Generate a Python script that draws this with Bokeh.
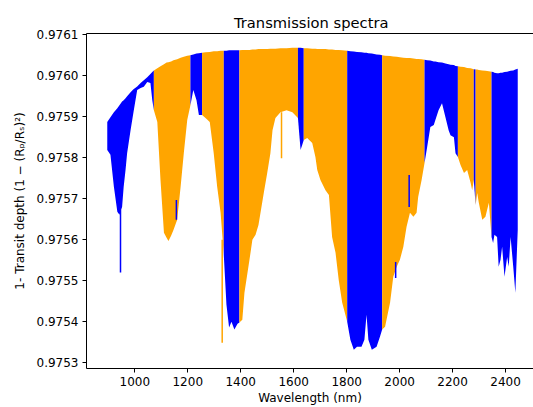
import numpy as np
from bokeh.plotting import figure
from bokeh.models import FixedTicker, LinearAxis, Range1d, PrintfTickFormatter
from bokeh.embed import file_html
from bokeh.resources import INLINE

# ---------------- data ----------------
wavelength = [896, 908, 921, 934, 942, 952, 958, 965, 971, 984, 995, 1009, 1022, 1034, 1047, 1059, 1066, 1072,
              1085, 1097, 1110, 1120, 1127, 1137, 1146, 1160, 1173, 1185, 1198, 1210,
              1221, 1233, 1242, 1254,
              1267, 1283, 1298, 1311, 1324, 1336,
              1346, 1356, 1365, 1376, 1388, 1395,
              1406, 1414, 1433, 1444, 1456, 1467, 1487, 1500, 1512, 1520, 1531, 1550, 1573, 1595, 1616,
              1626, 1638,
              1651, 1670, 1682, 1689, 1701, 1720, 1733, 1745, 1758, 1770, 1783, 1802,
              1814, 1827, 1839, 1856, 1867, 1875, 1882, 1895, 1913, 1926, 1934,
              1945, 1964, 1976, 1989, 2001, 2014, 2026, 2039, 2052, 2064, 2070, 2083, 2094,
              2104, 2116, 2129, 2135, 2147, 2160, 2173, 2185, 2192, 2205, 2211, 2220,
              2230, 2243, 2255, 2268, 2274, 2280,
              2287,
              2293, 2299, 2312, 2324, 2337, 2347,
              2353, 2358, 2368, 2374, 2381, 2387, 2396, 2406, 2412, 2419, 2429, 2437, 2446]

upper = [0.975886, 0.975898, 0.975910, 0.975920, 0.975927, 0.975936, 0.975939, 0.975944, 0.975949, 0.975959,
         0.975966, 0.975973, 0.975981, 0.975988, 0.975995, 0.976003, 0.976008, 0.976012,
         0.976017, 0.976022, 0.976027, 0.976031, 0.976032, 0.976034, 0.976037, 0.976039, 0.976043, 0.976045,
         0.976048, 0.976049,
         0.976051, 0.976053, 0.976054, 0.976055,
         0.976056, 0.976057, 0.976059, 0.976059, 0.976060, 0.976060,
         0.976060, 0.976061, 0.976061, 0.976061, 0.976061, 0.976061,
         0.976062, 0.976062, 0.976062, 0.976063, 0.976063, 0.976064, 0.976064, 0.976064, 0.976065, 0.976065,
         0.976065, 0.976066, 0.976066, 0.976067, 0.976067,
         0.976067, 0.976066,
         0.976066, 0.976065, 0.976065, 0.976064, 0.976064, 0.976064, 0.976063, 0.976063, 0.976062, 0.976062,
         0.976061, 0.976060,
         0.976059, 0.976058, 0.976057, 0.976056, 0.976055, 0.976055, 0.976054, 0.976053, 0.976051, 0.976050,
         0.976049,
         0.976048, 0.976047, 0.976046, 0.976045, 0.976044, 0.976043, 0.976042, 0.976042, 0.976041, 0.976040,
         0.976040, 0.976039, 0.976038,
         0.976037, 0.976036, 0.976034, 0.976034, 0.976032, 0.976031, 0.976029, 0.976027, 0.976026, 0.976025,
         0.976023, 0.976022,
         0.976021, 0.976020, 0.976018, 0.976017, 0.976016, 0.976015,
         0.976014,
         0.976014, 0.976013, 0.976012, 0.976011, 0.976010, 0.976009,
         0.976008, 0.976006, 0.976005, 0.976005, 0.976006, 0.976006, 0.976008, 0.976009, 0.976010, 0.976011,
         0.976012, 0.976014, 0.976016]

lower = [0.975818, 0.975806, 0.975728, 0.975667, 0.975660, 0.975679, 0.975728, 0.975769, 0.975810, 0.975866,
         0.975910, 0.975964, 0.975969, 0.975972, 0.975984, 0.975981, 0.975939, 0.975915,
         0.975886, 0.975745, 0.975616, 0.975604, 0.975596, 0.975609, 0.975623, 0.975648, 0.975728, 0.975810,
         0.975891, 0.975927,
         0.975964, 0.975939, 0.975903, 0.975903,
         0.975896, 0.975886, 0.975810, 0.975728, 0.975665, 0.975562,
         0.975441, 0.975385, 0.975399, 0.975380, 0.975394, 0.975397,
         0.975404, 0.975470, 0.975550, 0.975599, 0.975611, 0.975635, 0.975713, 0.975762, 0.975810, 0.975866,
         0.975896, 0.975910, 0.975915, 0.975910, 0.975896,
         0.975818, 0.975842,
         0.975847, 0.975835, 0.975801, 0.975769, 0.975745, 0.975720, 0.975708, 0.975606, 0.975567, 0.975501,
         0.975446, 0.975399,
         0.975355, 0.975331, 0.975338, 0.975338, 0.975355, 0.975416, 0.975355, 0.975331, 0.975338, 0.975363,
         0.975380,
         0.975387, 0.975446, 0.975509, 0.975533, 0.975550, 0.975582, 0.975630, 0.975665, 0.975655, 0.975665,
         0.975703, 0.975745, 0.975786,
         0.975825, 0.975874, 0.975879, 0.975891, 0.975915, 0.975932, 0.975898, 0.975866, 0.975854, 0.975849,
         0.975810, 0.975801,
         0.975781, 0.975762, 0.975769, 0.975738, 0.975720, 0.975745,
         0.975684,
         0.975713, 0.975689, 0.975648, 0.975655, 0.975689, 0.975606,
         0.975591, 0.975611, 0.975606, 0.975533, 0.975550, 0.975582, 0.975509, 0.975557, 0.975533, 0.975606,
         0.975533, 0.975470, 0.975623]

band_edges = [896, 1072, 1210, 1254, 1336, 1395, 1616, 1638, 1802, 1934, 2094, 2220, 2280, 2287, 2347, 2446]
band_colors = ["blue", "orange", "blue", "orange", "blue", "orange", "blue", "orange",
               "blue", "orange", "blue", "orange", "blue", "orange", "blue"]

spike_wl = [946, 1157, 1330, 1554, 1985, 2036]
spike_lo = [0.975519, 0.975648, 0.975348, 0.975798, 0.975506, 0.975679]
spike_hi = [0.975672, 0.975696, 0.975599, 0.975910, 0.975545, 0.975757]
spike_colors = ["blue", "blue", "orange", "orange", "blue", "blue"]

x_ticks = [1000, 1200, 1400, 1600, 1800, 2000, 2200, 2400]
y_ticks = [0.9753, 0.9754, 0.9755, 0.9756, 0.9757, 0.9758, 0.9759, 0.9760, 0.9761]

title_text = "Transmission spectra"
x_label = "Wavelength (nm)"
y_label = "1- Transit depth (1 \u2212 (R\u209a/R\u209b)\u00b2)"

# ---------------- figure ----------------
FONT = "DejaVu Sans"
p = figure(width=533, height=407, output_backend="svg", toolbar_location=None,
           x_range=Range1d(817.6, 2505.5), y_range=Range1d(0.975285, 0.976102),
           min_border_left=86, min_border_right=0, min_border_top=33, min_border_bottom=38,
           title=title_text)
p.background_fill_color = "white"
p.border_fill_color = "white"
p.outline_line_color = None
p.grid.visible = False

wl = np.array(wavelength, dtype=float)
up = np.array(upper)
lo = np.array(lower)
for i, col in enumerate(band_colors):
    m = (wl >= band_edges[i]) & (wl <= band_edges[i + 1])
    p.varea(x=wl[m], y1=lo[m], y2=up[m], fill_color=col)

p.segment(x0=spike_wl, y0=spike_lo, x1=spike_wl, y1=spike_hi, line_color=spike_colors, line_width=1.5)

for ax in (p.xaxis[0], p.yaxis[0]):
    ax.axis_line_color = "black"
    ax.axis_line_width = 1
    ax.major_tick_line_color = "black"
    ax.major_tick_out = 4
    ax.major_tick_in = 0
    ax.minor_tick_line_color = None
    ax.major_label_text_font = FONT
    ax.major_label_text_font_size = "12px"
    ax.major_label_text_color = "black"
    ax.axis_label_text_font = FONT
    ax.axis_label_text_font_size = "12px"
    ax.axis_label_text_font_style = "normal"
    ax.axis_label_text_color = "black"

p.xaxis.ticker = FixedTicker(ticks=x_ticks)
p.yaxis.ticker = FixedTicker(ticks=y_ticks)
p.yaxis.formatter = PrintfTickFormatter(format="%.4f")
p.xaxis.axis_label = x_label
p.yaxis.axis_label = y_label
p.xaxis.major_label_standoff = 4
p.xaxis.axis_label_standoff = 2
p.yaxis.major_label_standoff = 4
p.yaxis.axis_label_standoff = 7

top_axis = LinearAxis(ticker=FixedTicker(ticks=[]), axis_line_color="black", axis_line_width=1,
                      major_tick_line_color=None, minor_tick_line_color=None,
                      major_tick_out=0, major_tick_in=0, major_label_standoff=0,
                      major_label_text_font_size="0px")
p.add_layout(top_axis, "above")

p.title.text_font = FONT
p.title.text_font_size = "14.7px"
p.title.text_font_style = "normal"
p.title.text_color = "black"
p.title.align = "left"
p.title.offset = 147.5
p.title.standoff = 6

open("out.html", "w").write(file_html(p, INLINE))
